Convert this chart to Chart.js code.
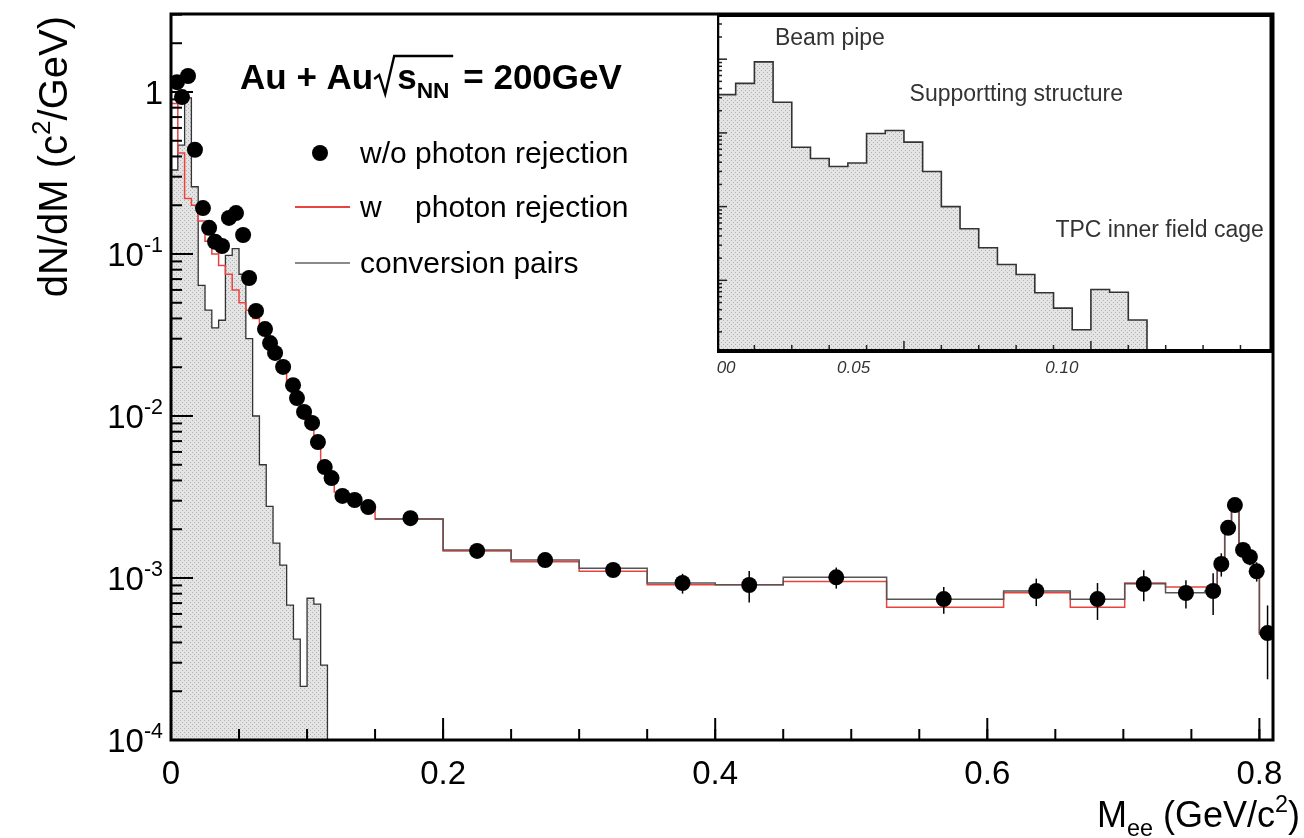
<!DOCTYPE html>
<html>
<head>
<meta charset="utf-8">
<script src="https://cdn.jsdelivr.net/npm/chart.js@4.4.1/dist/chart.umd.min.js"></script>
<style>
  html, body { margin: 0; padding: 0; background: #fff; }
  #wrap { position: relative; width: 1304px; height: 838px; }
  #mainChart { position: absolute; left: 0; top: 0; }
  #insetChart { position: absolute; left: 717px; top: 14px; }
</style>
</head>
<body>
<div id="wrap">
  <canvas id="mainChart" width="1304" height="838"></canvas>
  <canvas id="insetChart" width="556" height="380"></canvas>
</div>
<script>
// dielectron yield, w/o photon rejection (points)
const massPoints = [0.0044, 0.0081, 0.0125, 0.0176, 0.0235, 0.028, 0.0324, 0.0375, 0.0426, 0.0478,
  0.053, 0.0574, 0.0625, 0.0691, 0.0728, 0.0765, 0.0824, 0.0897, 0.0926, 0.0978,
  0.1037, 0.108, 0.113, 0.118, 0.126, 0.135, 0.145, 0.176, 0.225, 0.275,
  0.325, 0.376, 0.425, 0.489, 0.568, 0.636, 0.681, 0.715, 0.746, 0.766,
  0.772, 0.777, 0.782, 0.788, 0.793, 0.798, 0.806];
const yieldPoints = [1.15, 0.93, 1.255, 0.44, 0.192, 0.145, 0.119, 0.112, 0.167, 0.179,
  0.131, 0.0711, 0.0445, 0.0344, 0.0282, 0.0245, 0.0201, 0.0155, 0.0129, 0.0106,
  0.00906, 0.0069, 0.00484, 0.00414, 0.00321, 0.00303, 0.00274, 0.00234, 0.00147, 0.00129,
  0.00112, 0.000931, 0.000905, 0.00101, 0.000741, 0.000831, 0.000741, 0.000918, 0.000808, 0.000831,
  0.00122, 0.00204, 0.00282, 0.00149, 0.00135, 0.0011, 0.000457];
const yieldErrors = [0, 0, 0, 0, 0, 0, 0, 0, 0, 0,
  0, 0, 0, 0, 0, 0, 0, 0, 0, 0,
  0, 0, 0, 0, 0, 0, 0, 0, 0, 0,
  0, 0.00013, 0.0002, 0.00015, 0.00014, 0.00016, 0.00019, 0.0002, 0.00016, 0.00024,
  0.0002, 0.0002, 0.0002, 0.00015, 0.00015, 0.00015, 0.00022];

// fine binning below 0.15 GeV/c2 (photon-rejected histogram)
const lowEdges = [0, 0.005, 0.01, 0.015, 0.02, 0.025, 0.03, 0.035, 0.04, 0.045,
  0.05, 0.055, 0.06, 0.065, 0.07, 0.075, 0.08, 0.085, 0.09, 0.095,
  0.1, 0.105, 0.11, 0.115, 0.12, 0.125, 0.13, 0.135, 0.14, 0.145, 0.15];
const rejLow = [0.85, 0.42, 0.22, 0.2, 0.16, 0.12, 0.1, 0.085, 0.075, 0.06,
  0.05, 0.045, 0.04, 0.034, 0.028, 0.024, 0.02, 0.016, 0.013, 0.0105,
  0.0088, 0.0068, 0.0049, 0.0041, 0.0034, 0.0031, 0.003, 0.0029, 0.0027, 0.0026];

// coarse binning above 0.15 GeV/c2
const highEdges = [0.15, 0.2, 0.25, 0.3, 0.35, 0.4, 0.45, 0.526, 0.612, 0.661, 0.701,
  0.731, 0.76, 0.769, 0.7745, 0.7795, 0.785, 0.7905, 0.7955, 0.8, 0.81];
const noRejHigh = [0.00231, 0.00149, 0.00129, 0.00115, 0.00093, 0.00091, 0.00101, 0.00074, 0.00083, 0.00074,
  0.00092, 0.00081, 0.00083, 0.00122, 0.00204, 0.00282, 0.00149, 0.00135, 0.0011, 0.00046];
const rejHigh = [0.00231, 0.00147, 0.00126, 0.0011, 0.00091, 0.00091, 0.00095, 0.00066, 0.00081, 0.00066,
  0.00093, 0.00088, 0.00088, 0.0013, 0.0021, 0.0027, 0.0016, 0.0014, 0.0011, 0.00045];

// photon conversion pairs
const convEdges = [0, 0.005, 0.01, 0.015, 0.02, 0.025, 0.03, 0.035, 0.04, 0.045,
  0.05, 0.055, 0.06, 0.065, 0.07, 0.075, 0.08, 0.085, 0.09, 0.095,
  0.1, 0.105, 0.11, 0.115];
const convYield = [0.33, 0.47, 0.92, 0.26, 0.064, 0.045, 0.035, 0.039, 0.098, 0.108,
  0.075, 0.03, 0.01, 0.005, 0.00277, 0.00164, 0.0012, 0.00068, 0.00042, 0.000214,
  0.00075, 0.00069, 0.00029];

const xTicks = [0, 0.2, 0.4, 0.6, 0.8];
const yDecades = [-4, -3, -2, -1, 0];
const insetTickLabels = ['0.00', '0.05', '0.10'];
// the inset labels sit a little left of their ticks
const insetLabelAt = [0, 0.036, 0.0917];

const Y_MIN = 1e-4, Y_MAX = 3.03;
const FONT = '"Liberation Sans", Arial, Helvetica, sans-serif';

// turn bin edges + contents into a stepped outline
function histPoints(edges, values, closeTo) {
  const pts = values.map((v, i) => ({ x: edges[i], y: v }));
  pts.push({ x: edges[edges.length - 1], y: values[values.length - 1] });
  if (closeTo !== undefined) pts.push({ x: edges[edges.length - 1], y: closeTo });
  return pts;
}

function dottedFill(ctx) {
  const c = document.createElement('canvas');
  c.width = 4; c.height = 4;
  const g = c.getContext('2d');
  g.fillStyle = '#e4e4e4';
  g.fillRect(0, 0, 4, 4);
  g.fillStyle = '#b0b0b0';
  g.fillRect(0, 0, 1, 1);
  g.fillRect(2, 2, 1, 1);
  return ctx.createPattern(c, 'repeat');
}

function line(ctx, x1, y1, x2, y2) {
  ctx.beginPath();
  ctx.moveTo(x1, y1);
  ctx.lineTo(x2, y2);
  ctx.stroke();
}

// text with a raised or lowered smaller part, left aligned
function richText(ctx, parts, x, y, size, bold) {
  let cx = x;
  parts.forEach(p => {
    const s = p.sup || p.sub ? size * 0.65 : size;
    ctx.font = (bold ? 'bold ' : '') + s + 'px ' + FONT;
    const dy = p.sup ? -size * 0.42 : (p.sub ? size * 0.25 : 0);
    ctx.fillText(p.t, cx, y + dy);
    cx += ctx.measureText(p.t).width;
  });
  return cx;
}
function richWidth(ctx, parts, size, bold) {
  let w = 0;
  parts.forEach(p => {
    const s = p.sup || p.sub ? size * 0.65 : size;
    ctx.font = (bold ? 'bold ' : '') + s + 'px ' + FONT;
    w += ctx.measureText(p.t).width;
  });
  return w;
}

const errorBars = {
  id: 'errorBars',
  afterDatasetsDraw(chart) {
    const { ctx, scales: { x, y } } = chart;
    ctx.save();
    ctx.strokeStyle = '#000';
    ctx.lineWidth = 1.5;
    massPoints.forEach((m, i) => {
      const e = yieldErrors[i];
      if (!e) return;
      const px = x.getPixelForValue(m);
      line(ctx, px, y.getPixelForValue(yieldPoints[i] + e), px, y.getPixelForValue(Math.max(yieldPoints[i] - e, Y_MIN)));
    });
    ctx.restore();
  }
};

const rootAxes = {
  id: 'rootAxes',
  afterDraw(chart) {
    const { ctx, chartArea: a, scales: { x, y } } = chart;
    ctx.save();
    ctx.strokeStyle = '#000';
    ctx.fillStyle = '#000';

    // x ticks (inside the frame)
    ctx.lineWidth = 2;
    for (let k = 1; k * 0.05 < x.max; k++) {
      const px = x.getPixelForValue(k * 0.05);
      line(ctx, px, a.bottom, px, a.bottom - 11);
    }
    xTicks.forEach(v => {
      const px = x.getPixelForValue(v);
      line(ctx, px, a.bottom, px, a.bottom - 22);
    });
    // y ticks
    yDecades.forEach(d => {
      const py = y.getPixelForValue(Math.pow(10, d));
      line(ctx, a.left, py, a.left + 22, py);
      for (let m = 2; m <= 9; m++) {
        const v = m * Math.pow(10, d);
        if (v > Y_MAX) break;
        const pm = y.getPixelForValue(v);
        line(ctx, a.left, pm, a.left + 11, pm);
      }
    });

    // frame
    ctx.lineWidth = 3;
    ctx.strokeRect(a.left, a.top, a.right - a.left, a.bottom - a.top);

    // x tick labels
    ctx.font = '33px ' + FONT;
    ctx.textAlign = 'center';
    ctx.textBaseline = 'alphabetic';
    xTicks.forEach(v => ctx.fillText(String(v), x.getPixelForValue(v), a.bottom + 44));

    // y tick labels as powers of ten
    ctx.textAlign = 'left';
    const labelRight = a.left - 8;
    yDecades.forEach(d => {
      const py = y.getPixelForValue(Math.pow(10, d)) + 12;
      const parts = d === 0 ? [{ t: '1' }] : [{ t: '10' }, { t: String(d), sup: true }];
      richText(ctx, parts, labelRight - richWidth(ctx, parts, 33), py, 33);
    });

    // axis titles
    const yTitle = [{ t: 'dN/dM (c' }, { t: '2', sup: true }, { t: '/GeV)' }];
    ctx.save();
    ctx.translate(67, a.top + 2);
    ctx.rotate(-Math.PI / 2);
    richText(ctx, yTitle, -richWidth(ctx, yTitle, 40), 0, 40);
    ctx.restore();

    const xTitle = [{ t: 'M' }, { t: 'ee', sub: true }, { t: ' (GeV/c' }, { t: '2', sup: true }, { t: ')' }];
    richText(ctx, xTitle, 1300 - richWidth(ctx, xTitle, 36), 827, 36);

    // collision system
    let cx = richText(ctx, [{ t: 'Au + Au' }], 240, 89, 35, true);
    ctx.lineWidth = 2.4;
    ctx.beginPath();
    ctx.moveTo(cx + 1, 79);
    ctx.lineTo(cx + 6, 75);
    ctx.lineTo(cx + 12, 94);
    ctx.lineTo(cx + 21, 56);
    ctx.lineTo(cx + 80, 56);
    ctx.stroke();
    cx = richText(ctx, [{ t: 's' }, { t: 'NN', sub: true }], cx + 24, 89, 35, true);
    richText(ctx, [{ t: ' = 200GeV' }], cx + 4, 89, 35, true);

    // legend
    ctx.font = '30px ' + FONT;
    ctx.textBaseline = 'middle';
    ctx.beginPath();
    ctx.arc(320, 153, 8, 0, Math.PI * 2);
    ctx.fill();
    ctx.fillText('w/o photon rejection', 360, 155);
    ctx.lineWidth = 2;
    ctx.strokeStyle = '#e8433f';
    line(ctx, 295, 207, 350, 207);
    ctx.fillText('w', 360, 209);
    ctx.fillText('photon rejection', 360 + ctx.measureText('w/o ').width, 209);
    ctx.strokeStyle = '#8a8a8a';
    line(ctx, 295, 263, 350, 263);
    ctx.fillText('conversion pairs', 360, 265);
    ctx.restore();
  }
};

const insetAxes = {
  id: 'insetAxes',
  beforeDraw(chart) {
    const { ctx, chartArea: a } = chart;
    ctx.save();
    ctx.fillStyle = '#fff';
    ctx.fillRect(a.left, a.top, a.right - a.left, a.bottom - a.top);
    ctx.restore();
  },
  afterDraw(chart) {
    const { ctx, chartArea: a, scales: { x, y } } = chart;
    ctx.save();
    ctx.strokeStyle = '#222';
    ctx.lineWidth = 1.5;
    for (let k = 1; k * 0.01 < x.max; k++) {
      const px = x.getPixelForValue(k * 0.01);
      line(ctx, px, a.bottom, px, a.bottom - (k % 5 === 0 ? 10 : 6));
    }
    for (let d = -4; d <= 0; d++) {
      for (let m = 1; m <= 9; m++) {
        const v = m * Math.pow(10, d);
        if (v < y.min || v > y.max) continue;
        const py = y.getPixelForValue(v);
        line(ctx, a.left, py, a.left + (m === 1 ? 10 : 5), py);
      }
    }
    ctx.strokeStyle = '#000';
    ctx.lineWidth = 2.5;
    line(ctx, a.left + 1, a.top, a.left + 1, a.bottom);
    ctx.lineWidth = 4;
    line(ctx, a.left, a.bottom, a.right, a.bottom);
    line(ctx, a.left, a.top + 1, a.right, a.top + 1);
    line(ctx, a.right - 1.5, a.top, a.right - 1.5, a.bottom);

    ctx.fillStyle = '#333';
    ctx.font = 'italic 17px ' + FONT;
    ctx.textAlign = 'center';
    insetLabelAt.forEach((v, i) => ctx.fillText(insetTickLabels[i], x.getPixelForValue(v) + 2, a.bottom + 22));

    ctx.font = '23px ' + FONT;
    ctx.textAlign = 'left';
    ctx.textBaseline = 'middle';
    ctx.fillText('Beam pipe', x.getPixelForValue(0.0155), y.getPixelForValue(1.9));
    ctx.fillText('Supportting structure', x.getPixelForValue(0.0515), y.getPixelForValue(0.33));
    ctx.fillText('TPC inner field cage', x.getPixelForValue(0.0905), y.getPixelForValue(0.0047));
    ctx.restore();
  }
};

const mainCanvas = document.getElementById('mainChart');
const insetCanvas = document.getElementById('insetChart');

new Chart(mainCanvas, {
  type: 'line',
  data: {
    datasets: [
      {
        label: 'w/o photon rejection',
        data: massPoints.map((m, i) => ({ x: m, y: yieldPoints[i] })),
        showLine: false,
        pointRadius: 8,
        pointBackgroundColor: '#000',
        pointBorderWidth: 0
      },
      {
        label: 'w/o photon rejection (hist)',
        data: histPoints(highEdges, noRejHigh),
        stepped: 'before',
        borderColor: '#555',
        borderWidth: 1.5,
        pointRadius: 0
      },
      {
        label: 'w photon rejection',
        data: histPoints(lowEdges.concat(highEdges.slice(1)), rejLow.concat(rejHigh)),
        stepped: 'before',
        borderColor: '#e8433f',
        borderWidth: 1.5,
        pointRadius: 0
      },
      {
        label: 'conversion pairs',
        data: histPoints(convEdges, convYield, Y_MIN),
        stepped: 'before',
        borderColor: '#333',
        borderWidth: 1.3,
        backgroundColor: dottedFill(mainCanvas.getContext('2d')),
        fill: 'start',
        pointRadius: 0
      }
    ]
  },
  options: {
    responsive: false,
    animation: false,
    layout: { padding: { left: 171, top: 14, right: 31, bottom: 98 } },
    scales: {
      x: { type: 'linear', min: 0, max: 0.81, display: false },
      y: { type: 'logarithmic', min: Y_MIN, max: Y_MAX, display: false }
    },
    plugins: { legend: { display: false }, tooltip: { enabled: false } }
  },
  plugins: [errorBars, rootAxes]
});

new Chart(insetCanvas, {
  type: 'line',
  data: {
    datasets: [{
      label: 'conversion pairs',
      data: histPoints(convEdges, convYield, 1.1e-4),
      stepped: 'before',
      borderColor: '#333',
      borderWidth: 1.6,
      backgroundColor: dottedFill(insetCanvas.getContext('2d')),
      fill: 'start',
      pointRadius: 0
    }]
  },
  options: {
    responsive: false,
    animation: false,
    layout: { padding: { left: 0, top: 0, right: 0, bottom: 43 } },
    scales: {
      x: { type: 'linear', min: 0, max: 0.1487, display: false },
      y: { type: 'logarithmic', min: 1.1e-4, max: 4.1, display: false }
    },
    plugins: { legend: { display: false }, tooltip: { enabled: false } }
  },
  plugins: [insetAxes]
});
</script>
</body>
</html>
